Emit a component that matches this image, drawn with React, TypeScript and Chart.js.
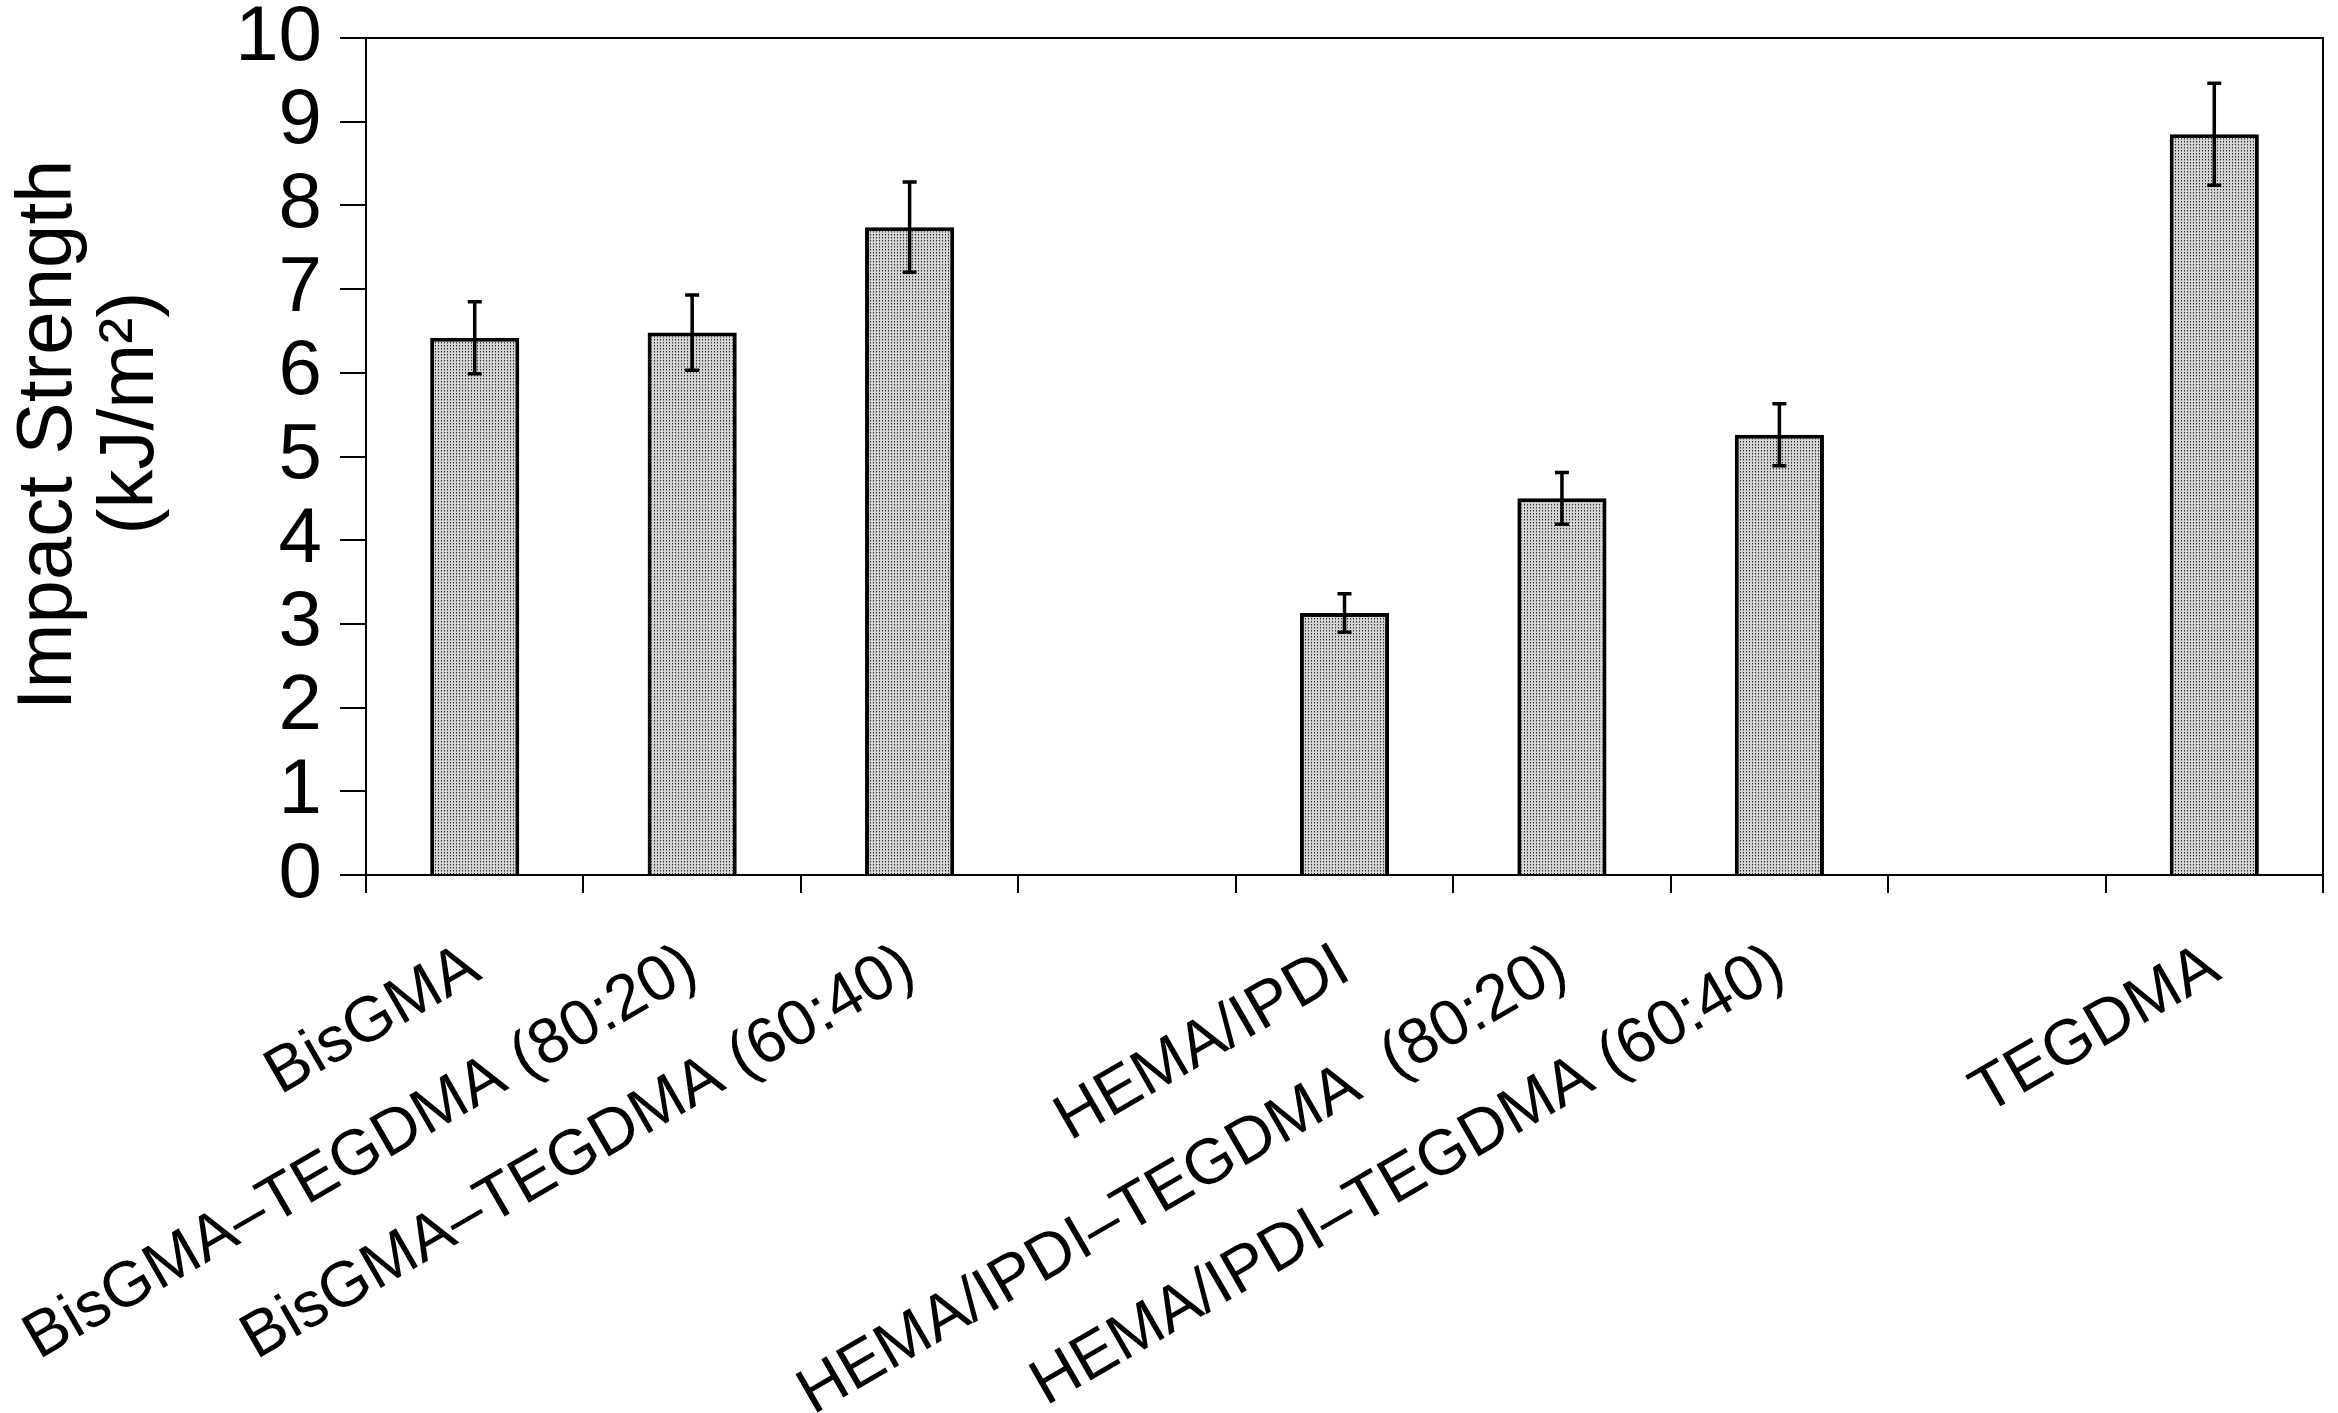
import React, { useEffect, useRef } from "react";
import { Chart, registerables } from "chart.js";

Chart.register(...registerables);

const FONT = "'Liberation Sans', Arial, Helvetica, sans-serif";

const categories = [
  "BisGMA",
  "BisGMA–TEGDMA (80:20)",
  "BisGMA–TEGDMA (60:40)",
  "",
  "HEMA/IPDI",
  "HEMA/IPDI–TEGDMA  (80:20)",
  "HEMA/IPDI–TEGDMA (60:40)",
  "",
  "TEGDMA",
];
const impactStrength: (number | null)[] = [6.42, 6.48, 7.74, null, 3.13, 4.5, 5.26, null, 8.85];
const errorSD: (number | null)[] = [0.43, 0.45, 0.54, null, 0.23, 0.31, 0.37, null, 0.61];
const yMin = 0;
const yMax = 10;
const yStep = 1;
const yTitle = ["  Impact Strength", "    (kJ/m²)"];

function makePattern(): CanvasPattern | string {
  const c = document.createElement("canvas");
  c.width = 3;
  c.height = 3;
  const g = c.getContext("2d");
  if (!g) return "#bebebe";
  g.fillStyle = "#d4d4d4";
  g.fillRect(0, 0, 3, 3);
  g.fillStyle = "#2a2a2a";
  g.fillRect(0, 0, 1, 1);
  g.fillStyle = "#8a8a8a";
  g.fillRect(0, 1, 1, 1);
  const p = g.createPattern(c, "repeat");
  return p || "#bebebe";
}

const errorBarPlugin = {
  id: "errorBars",
  afterDatasetsDraw(chart: any) {
    const meta = chart.getDatasetMeta(0);
    const ys = chart.scales.y;
    const ctx = chart.ctx;
    ctx.save();
    ctx.strokeStyle = "#000";
    ctx.lineWidth = 3.5;
    meta.data.forEach((bar: any, i: number) => {
      const v = impactStrength[i];
      const e = errorSD[i];
      if (v == null || e == null) return;
      const x = bar.x;
      const yTop = ys.getPixelForValue(v + e);
      const yBot = ys.getPixelForValue(v - e);
      const cap = 7;
      ctx.beginPath();
      ctx.moveTo(x, yTop);
      ctx.lineTo(x, yBot);
      ctx.moveTo(x - cap, yTop);
      ctx.lineTo(x + cap, yTop);
      ctx.moveTo(x - cap, yBot);
      ctx.lineTo(x + cap, yBot);
      ctx.stroke();
    });
    // frame: top and right edges of plot area
    const a = chart.chartArea;
    ctx.lineWidth = 2;
    ctx.beginPath();
    ctx.moveTo(a.left, a.top);
    ctx.lineTo(a.right, a.top);
    ctx.lineTo(a.right, a.bottom);
    ctx.stroke();
    ctx.restore();
  },
};

export default function App() {
  const ref = useRef<HTMLCanvasElement | null>(null);

  useEffect(() => {
    if (!ref.current) return;
    const chart = new Chart(ref.current, {
      type: "bar",
      data: {
        labels: categories,
        datasets: [
          {
            data: impactStrength as any,
            backgroundColor: makePattern() as any,
            borderColor: "#000",
            borderWidth: 4,
            barPercentage: 0.41,
            categoryPercentage: 1,
          },
        ],
      },
      options: {
        animation: false,
        responsive: true,
        maintainAspectRatio: false,
        devicePixelRatio: 1,
        layout: { padding: { top: 38, right: 15, left: 0, bottom: 0 } },
        plugins: {
          legend: { display: false },
          tooltip: { enabled: false },
        },
        scales: {
          x: {
            offset: true,
            grid: {
              offset: true,
              drawOnChartArea: false,
              drawTicks: true,
              tickLength: 18,
              color: "#000",
              lineWidth: 2,
            },
            border: { display: true, color: "#000", width: 2 },
            ticks: {
              autoSkip: false,
              minRotation: 30,
              maxRotation: 30,
              color: "#000",
              padding: 36,
              font: { size: 64, family: FONT },
            },
            afterFit(s: any) {
              s.height = 1413 - 875;
              s.paddingLeft = 0;
              s.paddingRight = 0;
            },
          },
          y: {
            min: yMin,
            max: yMax,
            grid: {
              drawOnChartArea: false,
              drawTicks: true,
              tickLength: 26,
              color: "#000",
              lineWidth: 2,
            },
            border: { display: true, color: "#000", width: 2 },
            ticks: {
              stepSize: yStep,
              autoSkip: false,
              color: "#000",
              padding: 18,
              font: { size: 78, family: FONT },
            },
            title: {
              display: true,
              text: yTitle,
              color: "#000",
              font: { size: 78, family: FONT, lineHeight: 1.05 },
              padding: { top: 9, bottom: 0 },
            },
            afterFit(s: any) {
              s.width = 366;
              s.paddingTop = 0;
              s.paddingBottom = 0;
            },
          },
        },
      },
      plugins: [errorBarPlugin],
    });
    return () => chart.destroy();
  }, []);

  return (
    <div style={{ position: "fixed", left: 0, top: 0, width: 2338, height: 1413, background: "#fff" }}>
      <canvas ref={ref} />
    </div>
  );
}
